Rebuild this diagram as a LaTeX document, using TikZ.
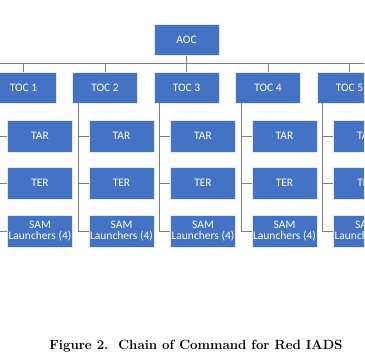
\documentclass[tikz,border=0pt]{standalone}
\usepackage{fontspec}
\newfontfamily\boxfont{Carlito}
\usetikzlibrary{calc}
\definecolor{boxblue}{HTML}{4472C4}
\definecolor{linegray}{HTML}{7F7F7F}
\tikzset{
  unitbox/.style={draw=white!85!boxblue, line width=0.8pt, fill=boxblue, text=white,
    minimum width=65pt, minimum height=31pt, inner sep=1pt, align=center,
    font=\boxfont\fontsize{11.5}{12.5}\selectfont},
  childbox/.style={unitbox, minimum height=32pt},
  link/.style={draw=linegray, line width=0.9pt}
}
\begin{document}
\begin{tikzpicture}[x=1pt,y=-1pt]
\useasboundingbox (0,0) rectangle (364,364);
\fill[white] (0,0) rectangle (364,364);
\begin{scope}
\clip (0,0) rectangle (364,300);
\node[unitbox] (aoc) at (186.5,40) {AOC};
\coordinate (busL) at (0,63);
\coordinate (busR) at (364,63);
\draw[link] (busL) -- (busR);
\draw[link] (aoc.south) -- (aoc.south |- busL);
\foreach \i in {1,...,5} {
  \pgfmathsetmacro{\cx}{186.5+81.5*(\i-3)}
  \node[unitbox] (toc\i) at (\cx,87.5) {TOC \i};
  \node[childbox] (tar\i) at (\cx+16.5,136) {TAR};
  \node[childbox] (ter\i) at (\cx+16.5,183) {TER};
  \node[childbox] (sam\i) at (\cx+16.5,231) {SAM\\[-1pt]Launchers (4)};
  \coordinate (sp\i) at ($(toc\i.south west)+(6,0)$);
  \draw[link] (toc\i.north) -- (toc\i.north |- busL);
  \draw[link] (sp\i) |- (sam\i.west);
  \draw[link] (sp\i |- tar\i.west) -- (tar\i.west);
  \draw[link] (sp\i |- ter\i.west) -- (ter\i.west);
}
\end{scope}
\node[anchor=base, font=\fontsize{13.3}{16}\selectfont\bfseries, inner sep=0pt] (cap) at (196,349) {Figure 2.\ \ Chain of Command for Red IADS};
\end{tikzpicture}
\end{document}
